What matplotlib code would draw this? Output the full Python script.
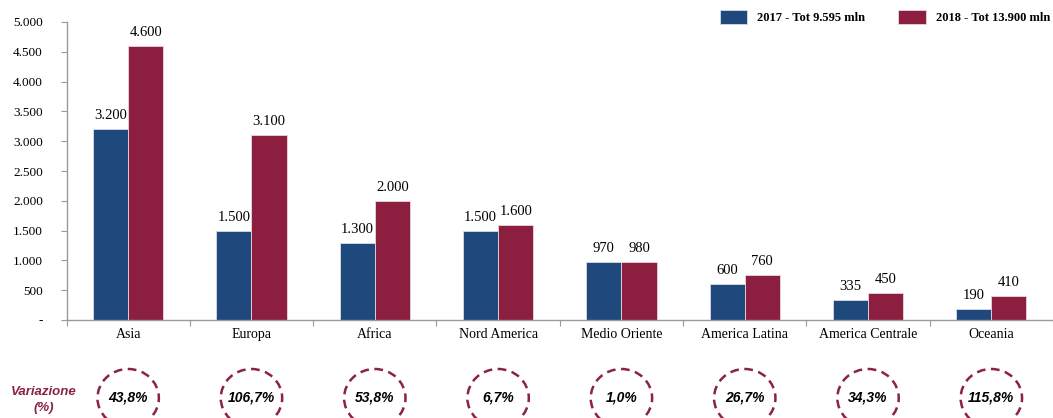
import matplotlib.pyplot as plt
from matplotlib.patches import Ellipse
import numpy as np

regioni = ['Asia', 'Europa', 'Africa', 'Nord America', 'Medio Oriente',
           'America Latina', 'America Centrale', 'Oceania']
val_2017 = [3200, 1500, 1300, 1500, 970, 600, 335, 190]
val_2018 = [4600, 3100, 2000, 1600, 980, 760, 450, 410]
variazione = ['43,8%', '106,7%', '53,8%', '6,7%', '1,0%', '26,7%', '34,3%', '115,8%']
yticks = [0, 500, 1000, 1500, 2000, 2500, 3000, 3500, 4000, 4500, 5000]

blu = '#1F497D'
rosso = '#8C1F3F'
grigio = '#9A9A9A'
serif = ['Liberation Serif', 'DejaVu Serif']
sans = ['Liberation Sans', 'DejaVu Sans']

def fmt(v):
    return '-' if v == 0 else f'{v:,}'.replace(',', '.')

W, H = 1053, 418
fig = plt.figure(figsize=(W / 100, H / 100), dpi=100)
ax = fig.add_axes([66.5 / W, (H - 320) / H, (W - 66.5) / W, 298 / H])

x = np.arange(len(regioni))
w = 0.285
b1 = ax.bar(x - w / 2, val_2017, w, color=blu, edgecolor='#D8DDE8', linewidth=0.6,
            label='2017 - Tot 9.595 mln')
b2 = ax.bar(x + w / 2, val_2018, w, color=rosso, edgecolor='#E8D8DD', linewidth=0.6,
            label='2018 - Tot 13.900 mln')

for bars, vals in ((b1, val_2017), (b2, val_2018)):
    for r, v in zip(bars, vals):
        ax.annotate(fmt(v), (r.get_x() + r.get_width() / 2, v), xytext=(0, 5),
                    textcoords='offset points', ha='center', va='bottom',
                    fontsize=10.5, family=serif)

ax.set_xlim(-0.5, -0.5 + (W - 66.5) / 124.5)
ax.set_ylim(0, 5000)
ax.set_yticks(yticks)
ax.set_yticklabels([fmt(v) for v in yticks], family=serif, fontsize=9.5)

# category labels centred, tick marks on the group boundaries
ax.set_xticks(np.arange(-0.5, len(regioni) + 0.5, 1))
ax.set_xticklabels([])
ax.set_xticks(x, minor=True)
ax.set_xticklabels(regioni, minor=True, family=serif, fontsize=10)
ax.tick_params(axis='x', which='minor', length=0, pad=6)
ax.tick_params(axis='x', which='major', length=4, color=grigio, direction='out')
ax.tick_params(axis='y', length=4, color=grigio, pad=13)

for s in ['top', 'right']:
    ax.spines[s].set_visible(False)
for s in ['left', 'bottom']:
    ax.spines[s].set_color(grigio)
    ax.spines[s].set_linewidth(1.0)

fig.legend(loc='upper right', bbox_to_anchor=(1.008, 1.003), ncol=2, frameon=False,
           prop={'family': serif, 'weight': 'bold', 'size': 9},
           handlelength=2.2, handleheight=1.4, columnspacing=2.65, handletextpad=0.8)

# variation row below the axis
trans = ax.get_xaxis_transform()
y_var = -(398 - 320) / 298
for xi, t in zip(x, variazione):
    ax.add_patch(Ellipse((xi, y_var), 62 / 124.5, 58 / 298, transform=trans, fill=False,
                         edgecolor='#8B2346', linewidth=1.8, linestyle=(0, (3.5, 2.2)),
                         clip_on=False))
    ax.text(xi, y_var, t, transform=trans, ha='center', va='center', fontsize=10,
            family=sans, weight='bold', style='italic')

fig.text(44 / W, 1 - 392 / H, 'Variazione', ha='center', va='center', color='#8B2346',
         fontsize=9.5, family=sans, weight='bold', style='italic')
fig.text(44 / W, 1 - 408 / H, '(%)', ha='center', va='center', color='#8B2346',
         fontsize=9.5, family=sans, weight='bold', style='italic')

fig.savefig('out.png', dpi=100)
